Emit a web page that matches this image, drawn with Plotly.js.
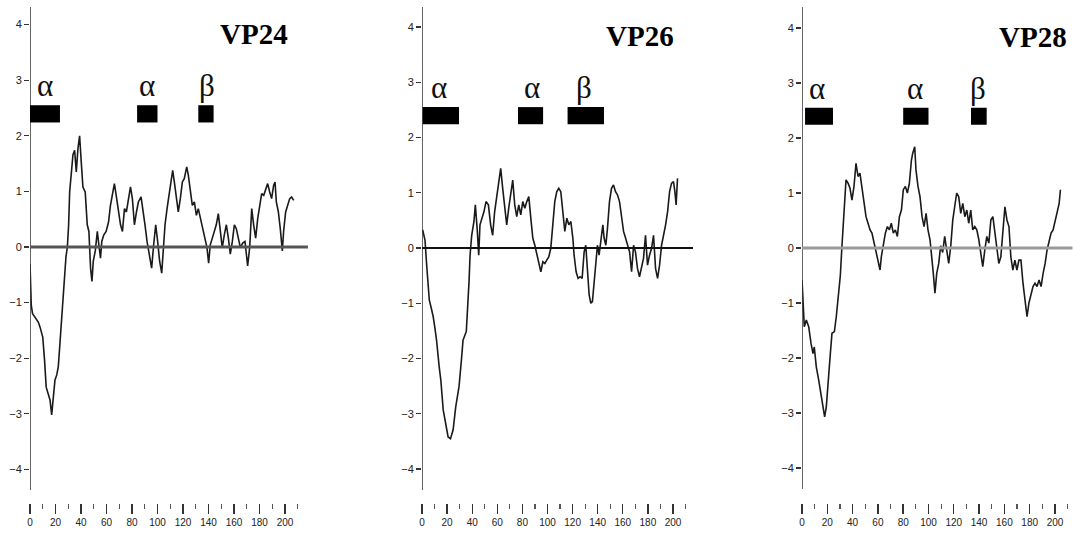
<!DOCTYPE html>
<html>
<head>
<meta charset="utf-8">
<script src="https://cdn.plot.ly/plotly-3.0.1.min.js"></script>
<style>html,body{margin:0;padding:0;background:#fff}#chart{width:1073px;height:537px}</style>
</head>
<body>
<div id="chart"></div>
<script>
// ---- Data (residue position, hydropathy value) ----
var panelNames = ["VP24", "VP26", "VP28"];

var vp24Profile = [[0,-0.3],[0.5,-0.83],[1,-1.05],[2,-1.2],[3.5,-1.25],[5,-1.3],[6.5,-1.35],[8,-1.45],[10,-1.62],[11.4,-2.03],[12.7,-2.52],[14,-2.62],[15.7,-2.75],[17,-3.02],[18.3,-2.62],[19.6,-2.39],[21,-2.3],[22.2,-2.15],[23.5,-1.73],[24.8,-1.31],[26.1,-0.83],[27.2,-0.5],[28.2,-0.18],[29.3,0],[30.3,0.40],[31.1,0.99],[32.4,1.30],[33.7,1.66],[35,1.74],[36.3,1.35],[37.6,1.77],[38.9,2.0],[40.2,1.53],[41.5,1.08],[43.3,0.99],[44.9,0.40],[46.2,0.28],[47.5,-0.38],[48.6,-0.62],[49.6,-0.26],[51.2,-0.07],[52.8,0.28],[54,0.04],[55.3,-0.2],[56.3,0.1],[57.9,0.22],[59.7,0.28],[61.6,0.45],[63.1,0.75],[65,0.99],[66.2,1.14],[67.6,0.93],[68.9,0.69],[71,0.40],[72.5,0.28],[74.1,0.69],[75.6,0.63],[77.2,0.84],[78.8,1.08],[80.3,0.87],[81.9,0.40],[83.5,0.63],[85,0.81],[87.1,0.90],[88.6,0.69],[90.2,0.40],[91.8,0.10],[93.8,-0.2],[95.4,-0.38],[97,0.04],[98.6,0.40],[100.1,0.10],[101.7,-0.26],[103.3,-0.47],[104.3,-0.07],[105.9,0.40],[107.5,0.69],[109.3,0.99],[110.6,1.23],[111.9,1.38],[113.2,1.17],[114.8,0.93],[116.3,0.63],[117.9,0.87],[119.5,1.17],[121,1.23],[122.9,1.44],[124.2,1.29],[125.7,0.99],[127.3,0.75],[128.9,0.81],[130.5,0.57],[132,0.69],[133.6,0.51],[135.2,0.33],[136.7,0.22],[138.8,-0.01],[140.1,-0.29],[141.4,0.04],[143,0.16],[144.6,0.28],[146.1,0.40],[147.7,0.60],[149.3,0.22],[150.8,-0.01],[152.4,0.22],[154,0.40],[155.6,0.16],[157.1,-0.13],[158.7,0.10],[160.3,0.40],[161.8,0.33],[163.4,0.16],[165,-0.01],[166.8,0.07],[168.6,0.10],[169.7,-0.13],[170.7,-0.34],[172.3,-0.01],[173.9,0.69],[175.4,0.40],[177,0.16],[178.6,0.51],[180.1,0.75],[181.7,0.96],[183.3,0.93],[184.8,1.02],[186.4,1.14],[188,0.99],[189.5,0.87],[191.1,1.11],[192.2,1.17],[193.2,0.81],[194.8,0.63],[196.3,0.33],[197.9,-0.07],[198.9,0.28],[200.5,0.63],[202.1,0.75],[203.7,0.87],[205.2,0.90],[206.8,0.84]];

var vp26Profile = [[0.5,0.33],[2.4,0.14],[3.7,-0.3],[4.8,-0.6],[5.8,-0.94],[7.5,-1.1],[8.9,-1.24],[10.3,-1.45],[11.6,-1.67],[13.7,-2.15],[15,-2.39],[16.9,-2.93],[19,-3.23],[20.8,-3.42],[22.7,-3.45],[24.8,-3.29],[26.9,-2.87],[29.5,-2.51],[31.4,-2.03],[32.7,-1.67],[35.3,-1.51],[36.7,-1.0],[37.5,-0.6],[38.3,-0.13],[39.6,0.23],[41.4,0.48],[42.5,0.78],[44.1,0.30],[45.2,-0.13],[46.2,0.42],[47.8,0.54],[49.4,0.66],[51,0.84],[52.9,0.78],[54.7,0.42],[56.3,0.23],[57.9,0.66],[59.5,0.90],[61.1,1.14],[62.7,1.44],[64.3,1.08],[65.9,0.78],[67.5,0.42],[69.1,0.72],[70.7,1.02],[72.3,1.23],[73.9,0.78],[75.5,0.57],[77.1,0.78],[78.7,0.60],[80.3,0.84],[81.9,0.72],[83.5,0.84],[85.1,0.93],[86.7,0.54],[88.3,0.18],[89.9,0.05],[91.5,-0.13],[93.1,-0.31],[94.7,-0.43],[96.3,-0.25],[97.9,-0.28],[99.4,-0.22],[101,-0.16],[102.6,-0.01],[104.2,0.48],[105.8,0.84],[107.4,1.02],[109,1.08],[110.6,1.02],[112.2,0.66],[113.8,0.30],[115.4,0.54],[117,0.42],[118.6,0.48],[120.2,0.18],[121.2,-0.13],[122.8,-0.43],[124.4,-0.55],[126,-0.52],[127.6,-0.55],[129.2,-0.07],[130.5,0.05],[131.8,-0.37],[133.2,-0.85],[134.5,-1.0],[135.8,-0.97],[137.2,-0.61],[138.5,-0.25],[139.8,0.05],[141.1,-0.13],[142.5,0.18],[144.1,0.42],[145.1,0.18],[146.5,0.05],[147.8,0.36],[149.4,0.84],[151,1.08],[152.6,1.14],[154.2,1.02],[155.8,0.96],[157.4,0.84],[159,0.60],[160.6,0.30],[162.2,0.18],[163.8,0.05],[165.4,-0.07],[167,-0.43],[168.6,0.05],[170.1,-0.07],[171.7,-0.37],[173.3,-0.52],[174.9,-0.37],[176.5,-0.19],[178.1,0.23],[179.7,-0.31],[181.3,-0.13],[182.9,-0.01],[184.5,0.23],[186.1,-0.37],[187.7,-0.55],[189.3,-0.31],[190.9,0.05],[192.5,0.23],[194.1,0.42],[195.7,0.66],[197.3,1.02],[198.8,1.17],[200.4,1.20],[201.5,1.02],[202.5,0.78],[203.6,1.26]];

var vp28Profile = [[0,-0.58],[0.8,-1.0],[1.8,-1.43],[3.4,-1.31],[5.3,-1.43],[7.1,-1.73],[8.7,-1.92],[9.7,-1.80],[11.3,-2.16],[13.2,-2.40],[15,-2.64],[16.6,-2.89],[17.9,-3.07],[19.2,-2.89],[21.1,-2.40],[22.4,-1.92],[23.7,-1.55],[25.6,-1.52],[27.1,-1.25],[28.7,-0.82],[30.3,-0.5],[31.6,0.04],[33.2,0.57],[34.8,1.24],[36.4,1.18],[37.9,1.09],[39.5,0.87],[41.1,1.12],[42.7,1.54],[44.3,1.30],[45.8,1.36],[47.4,1.12],[49,0.81],[50.6,0.57],[52.2,0.45],[53.8,0.33],[55.3,0.27],[56.9,0.09],[58.5,-0.04],[60.1,-0.22],[61.7,-0.40],[62.7,-0.16],[64.3,0.09],[65.9,0.27],[67.5,0.39],[69.1,0.33],[70.6,0.45],[72.2,0.27],[73.8,0.33],[75.4,0.21],[77,0.57],[78.6,0.69],[80.1,1.06],[81.7,1.12],[83.3,1.0],[84.9,1.18],[86.5,1.60],[87.5,1.72],[89.1,1.84],[90.1,1.42],[91.7,1.12],[93.3,0.93],[94.9,0.57],[96.5,0.39],[98.1,0.63],[99.6,0.33],[101.2,0.15],[102.8,-0.16],[103.8,-0.46],[105.1,-0.82],[106.5,-0.46],[108.1,-0.28],[109.6,0.04],[111.2,-0.08],[112.8,0.21],[114.4,-0.04],[116,-0.28],[117.6,0.04],[119.2,0.51],[120.7,0.75],[122.3,1.0],[123.9,0.93],[125.5,0.63],[127.1,0.81],[128.7,0.57],[130.3,0.69],[131.8,0.45],[133.4,0.69],[135,0.33],[136.6,0.39],[138.2,0.33],[139.8,0.15],[141.4,-0.08],[142.9,-0.34],[144.5,-0.04],[146.1,0.21],[147.7,0.09],[149.3,0.51],[150.9,0.57],[152.5,0.27],[154,0.09],[155.6,-0.28],[157.2,-0.16],[158.8,0.39],[160.4,0.75],[162,0.51],[163.6,0.39],[165.1,-0.16],[166.7,-0.40],[168.3,-0.22],[169.9,-0.40],[171.5,-0.22],[173.1,-0.22],[174.7,-0.64],[176.3,-1.0],[177.9,-1.25],[179.4,-1.0],[181,-0.82],[182.6,-0.70],[184.2,-0.64],[185.8,-0.70],[187.4,-0.58],[189,-0.70],[190.6,-0.46],[192.2,-0.28],[193.7,-0.04],[195.3,0.15],[196.9,0.27],[198.5,0.33],[200.1,0.51],[201.7,0.63],[203.3,0.81],[204.3,1.06]];

// secondary-structure segments [start, end] and their labels
var vp24Segments = [[0,23.5],[84,100],[132,144]];
var vp26Segments = [[0.5,29.5],[76.5,96.5],[116,145]];
var vp28Segments = [[2.4,24.5],[80,100],[133.6,146]];
var segmentLabels = ["α", "α", "β"];
var vp24LabelPos = [12, 92, 139];
var vp26LabelPos = [13.5, 87.6, 129];
var vp28LabelPos = [12, 89, 139];
var segmentBand = [2.24, 2.55];

var yTickVals = [-4,-3,-2,-1,0,1,2,3,4];
var xTickVals = [0,20,40,60,80,100,120,140,160,180,200];

// ---- Layout / styling ----
var profiles = [vp24Profile, vp26Profile, vp28Profile];
var segments = [vp24Segments, vp26Segments, vp28Segments];
var labelPos = [vp24LabelPos, vp26LabelPos, vp28LabelPos];
var xDomains = [[0.02796,0.28700],[0.39329,0.64592],[0.74744,0.99972]];
var xRanges = [[0,218],[0,216],[0,214]];
var yRanges = [[-4.604,4.317],[-4.615,4.362],[-4.636,4.382]];
var axisTop = [4.317, 4.36, 4.38];
var axisBottom = [-4.37, -4.38, -4.38];
var titleX = [175.3, 173.7, 182.6];
var zeroEnd = [218, 216, 214];
var zeroStyle = [{c:'#555',w:3},{c:'#111',w:2},{c:'#9a9a9a',w:3}];

var traces = [], shapes = [], annotations = [];
var layout = {
  width:1073, height:537,
  margin:{l:0,r:0,t:0,b:0},
  paper_bgcolor:'#fff', plot_bgcolor:'#fff',
  showlegend:false,
  font:{family:'Liberation Sans, Arial, sans-serif', color:'#222'}
};

for (var i=0;i<3;i++){
  var sfx = i===0 ? '' : String(i+1);
  var xa = 'x'+sfx, ya = 'y'+sfx;
  traces.push({
    type:'scatter', mode:'lines', xaxis:xa, yaxis:ya,
    x: profiles[i].map(function(p){return p[0];}),
    y: profiles[i].map(function(p){return p[1];}),
    line:{color:'#1a1a1a', width:1.6}, hoverinfo:'skip'
  });
  layout['xaxis'+sfx] = {
    domain:xDomains[i], range:xRanges[i], anchor:ya,
    showgrid:false, zeroline:false, showline:false,
    tickmode:'array', tickvals:xTickVals,
    ticks:'outside', ticklen:10, tickwidth:1.4, tickcolor:'#333',
    minor:{tickmode:'linear', tick0:10, dtick:20, ticks:'outside', ticklen:5, tickwidth:1.2, tickcolor:'#555'},
    tickfont:{size:10, family:'Liberation Sans Narrow, Liberation Sans, sans-serif', color:'#222'},
    fixedrange:true
  };
  layout['yaxis'+sfx] = {
    domain:[0.0633,0.987], range:yRanges[i], anchor:xa,
    showgrid:false, zeroline:false, showline:false,
    tickmode:'array', tickvals:yTickVals,
    ticks:'outside', ticklen:5, tickwidth:1.3, tickcolor:'#333',
    tickfont:{size:11, color:'#222'},
    fixedrange:true
  };
  // vertical axis line
  shapes.push({type:'line', xref:xa, yref:ya, x0:0, x1:0, y0:axisBottom[i], y1:axisTop[i],
    line:{color:'#333', width:1.5}});
  // zero line
  shapes.push({type:'line', xref:xa, yref:ya, x0:0, x1:zeroEnd[i], y0:0, y1:0,
    line:{color:zeroStyle[i].c, width:zeroStyle[i].w}});
  // segment bars + labels
  segments[i].forEach(function(s, k){
    shapes.push({type:'rect', xref:xa, yref:ya, x0:s[0], x1:s[1], y0:segmentBand[0], y1:segmentBand[1],
      fillcolor:'#000', line:{width:0}});
    annotations.push({xref:xa, yref:ya, x:labelPos[i][k], y:segmentBand[1]+0.0,
      text:segmentLabels[k], showarrow:false, xanchor:'center', yanchor:'bottom',
      font:{family:'Liberation Serif, Times New Roman, serif', size:31, color:'#111'}});
  });
  annotations.push({xref:xa, yref:ya, x:titleX[i], y:3.84, text:'<b>'+panelNames[i]+'</b>',
    showarrow:false, xanchor:'center', yanchor:'middle',
    font:{family:'Liberation Serif, Times New Roman, serif', size:29, color:'#000'}});
}
layout.shapes = shapes;
layout.annotations = annotations;

Plotly.newPlot('chart', traces, layout, {staticPlot:true, displayModeBar:false});
</script>
</body>
</html>
